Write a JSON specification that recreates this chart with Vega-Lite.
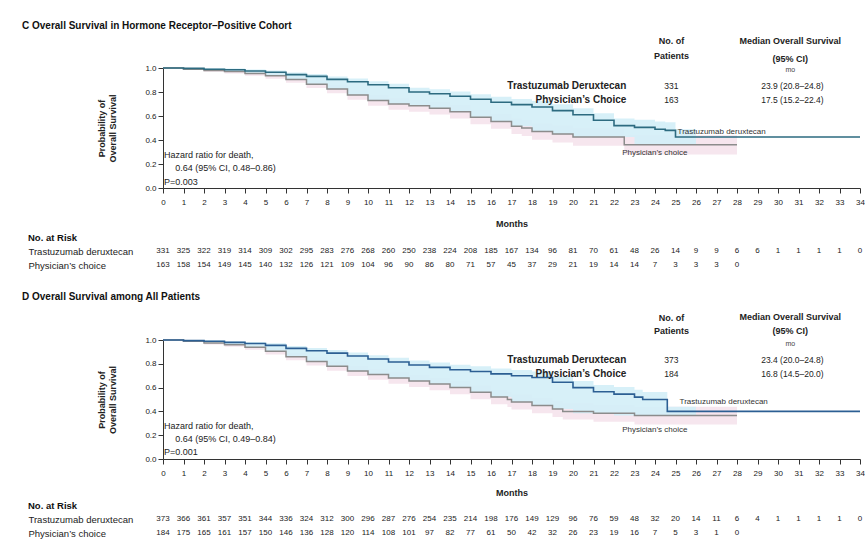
{
  "$schema": "https://vega.github.io/schema/vega-lite/v6.json",
  "background": "white",
  "padding": {"left": 22, "top": 20, "right": 0, "bottom": 0},
  "config": {
    "font": "Liberation Sans",
    "view": {"stroke": null},
    "axis": {"grid": false, "domainColor": "#333", "tickColor": "#333", "labelColor": "#222", "titleColor": "#222", "labelFontSize": 8, "titleFontSize": 9, "titleFontWeight": "bold"},
    "axisX": {"tickCount": 34, "labelOverlap": false, "labelFlush": false, "labelPadding": 5, "titlePadding": 13},
    "axisY": {"tickCount": 5, "labelOverlap": false, "titlePadding": 27},
    "title": {"color": "#111"}
  },
  "datasets": {
    "curvesC": [
      {"arm":"T","m":0,"s":1,"lo":1,"hi":1},
      {"arm":"T","m":1,"s":0.997,"lo":0.99,"hi":1},
      {"arm":"T","m":2,"s":0.99,"lo":0.98,"hi":0.998},
      {"arm":"T","m":3,"s":0.985,"lo":0.97,"hi":0.995},
      {"arm":"T","m":4,"s":0.975,"lo":0.955,"hi":0.988},
      {"arm":"T","m":5,"s":0.965,"lo":0.935,"hi":0.98},
      {"arm":"T","m":6,"s":0.945,"lo":0.905,"hi":0.962},
      {"arm":"T","m":7,"s":0.93,"lo":0.865,"hi":0.95},
      {"arm":"T","m":8,"s":0.905,"lo":0.825,"hi":0.93},
      {"arm":"T","m":9,"s":0.885,"lo":0.775,"hi":0.912},
      {"arm":"T","m":10,"s":0.86,"lo":0.73,"hi":0.89},
      {"arm":"T","m":11,"s":0.835,"lo":0.7,"hi":0.868},
      {"arm":"T","m":12,"s":0.8,"lo":0.685,"hi":0.835},
      {"arm":"T","m":13,"s":0.785,"lo":0.665,"hi":0.822},
      {"arm":"T","m":14,"s":0.765,"lo":0.635,"hi":0.805},
      {"arm":"T","m":15,"s":0.74,"lo":0.59,"hi":0.782},
      {"arm":"T","m":16,"s":0.715,"lo":0.555,"hi":0.76},
      {"arm":"T","m":17,"s":0.695,"lo":0.515,"hi":0.742},
      {"arm":"T","m":18,"s":0.675,"lo":0.47,"hi":0.725},
      {"arm":"T","m":19,"s":0.645,"lo":0.45,"hi":0.697},
      {"arm":"T","m":20,"s":0.61,"lo":0.425,"hi":0.665},
      {"arm":"T","m":21,"s":0.565,"lo":0.425,"hi":0.622},
      {"arm":"T","m":22,"s":0.52,"lo":0.425,"hi":0.58},
      {"arm":"T","m":23,"s":0.505,"lo":0.36,"hi":0.568},
      {"arm":"T","m":24,"s":0.49,"lo":0.36,"hi":0.555},
      {"arm":"T","m":24.5,"s":0.48,"lo":0.36,"hi":0.547},
      {"arm":"T","m":25,"s":0.425,"lo":0.36,"hi":0.49},
      {"arm":"T","m":26,"s":0.425,"lo":0.425,"hi":0.425},
      {"arm":"T","m":34,"s":0.425,"lo":0.425,"hi":0.425},
      {"arm":"P","m":0,"s":1,"lo":1,"hi":1},
      {"arm":"P","m":1,"s":0.99,"lo":0.985,"hi":0.995},
      {"arm":"P","m":2,"s":0.98,"lo":0.968,"hi":0.992},
      {"arm":"P","m":3,"s":0.97,"lo":0.954,"hi":0.986},
      {"arm":"P","m":4,"s":0.955,"lo":0.935,"hi":0.975},
      {"arm":"P","m":5,"s":0.935,"lo":0.91,"hi":0.96},
      {"arm":"P","m":6,"s":0.905,"lo":0.877,"hi":0.933},
      {"arm":"P","m":7,"s":0.865,"lo":0.833,"hi":0.897},
      {"arm":"P","m":8,"s":0.825,"lo":0.79,"hi":0.86},
      {"arm":"P","m":9,"s":0.775,"lo":0.735,"hi":0.815},
      {"arm":"P","m":10,"s":0.73,"lo":0.686,"hi":0.774},
      {"arm":"P","m":11,"s":0.7,"lo":0.653,"hi":0.747},
      {"arm":"P","m":12,"s":0.685,"lo":0.635,"hi":0.735},
      {"arm":"P","m":13,"s":0.665,"lo":0.612,"hi":0.718},
      {"arm":"P","m":14,"s":0.635,"lo":0.579,"hi":0.691},
      {"arm":"P","m":15,"s":0.59,"lo":0.531,"hi":0.649},
      {"arm":"P","m":16,"s":0.555,"lo":0.493,"hi":0.617},
      {"arm":"P","m":17,"s":0.515,"lo":0.45,"hi":0.58},
      {"arm":"P","m":17.5,"s":0.5,"lo":0.434,"hi":0.566},
      {"arm":"P","m":18,"s":0.47,"lo":0.402,"hi":0.538},
      {"arm":"P","m":19,"s":0.45,"lo":0.38,"hi":0.52},
      {"arm":"P","m":20,"s":0.425,"lo":0.352,"hi":0.498},
      {"arm":"P","m":22.5,"s":0.36,"lo":0.28,"hi":0.44},
      {"arm":"P","m":28,"s":0.36,"lo":0.27,"hi":0.45}
    ],
    "curvesD": [
      {"arm":"T","m":0,"s":1,"lo":1,"hi":1},
      {"arm":"T","m":1,"s":0.995,"lo":0.99,"hi":0.999},
      {"arm":"T","m":2,"s":0.99,"lo":0.975,"hi":0.998},
      {"arm":"T","m":3,"s":0.98,"lo":0.96,"hi":0.99},
      {"arm":"T","m":4,"s":0.97,"lo":0.94,"hi":0.984},
      {"arm":"T","m":5,"s":0.955,"lo":0.905,"hi":0.972},
      {"arm":"T","m":6,"s":0.93,"lo":0.86,"hi":0.95},
      {"arm":"T","m":7,"s":0.91,"lo":0.82,"hi":0.933},
      {"arm":"T","m":8,"s":0.89,"lo":0.78,"hi":0.916},
      {"arm":"T","m":9,"s":0.865,"lo":0.74,"hi":0.894},
      {"arm":"T","m":10,"s":0.84,"lo":0.71,"hi":0.872},
      {"arm":"T","m":11,"s":0.815,"lo":0.68,"hi":0.85},
      {"arm":"T","m":12,"s":0.79,"lo":0.655,"hi":0.828},
      {"arm":"T","m":13,"s":0.77,"lo":0.63,"hi":0.81},
      {"arm":"T","m":14,"s":0.75,"lo":0.6,"hi":0.792},
      {"arm":"T","m":15,"s":0.735,"lo":0.56,"hi":0.779},
      {"arm":"T","m":16,"s":0.715,"lo":0.52,"hi":0.761},
      {"arm":"T","m":17,"s":0.7,"lo":0.48,"hi":0.748},
      {"arm":"T","m":18,"s":0.685,"lo":0.45,"hi":0.735},
      {"arm":"T","m":19,"s":0.645,"lo":0.42,"hi":0.698},
      {"arm":"T","m":20,"s":0.6,"lo":0.385,"hi":0.655},
      {"arm":"T","m":21,"s":0.565,"lo":0.385,"hi":0.622},
      {"arm":"T","m":22,"s":0.545,"lo":0.365,"hi":0.604},
      {"arm":"T","m":23,"s":0.52,"lo":0.365,"hi":0.581},
      {"arm":"T","m":23.4,"s":0.5,"lo":0.365,"hi":0.562},
      {"arm":"T","m":24.6,"s":0.4,"lo":0.365,"hi":0.44},
      {"arm":"T","m":26,"s":0.4,"lo":0.4,"hi":0.4},
      {"arm":"T","m":34,"s":0.4,"lo":0.4,"hi":0.4},
      {"arm":"P","m":0,"s":1,"lo":1,"hi":1},
      {"arm":"P","m":1,"s":0.99,"lo":0.985,"hi":0.995},
      {"arm":"P","m":2,"s":0.975,"lo":0.962,"hi":0.988},
      {"arm":"P","m":3,"s":0.96,"lo":0.943,"hi":0.977},
      {"arm":"P","m":4,"s":0.94,"lo":0.918,"hi":0.962},
      {"arm":"P","m":5,"s":0.905,"lo":0.878,"hi":0.932},
      {"arm":"P","m":6,"s":0.86,"lo":0.829,"hi":0.891},
      {"arm":"P","m":7,"s":0.82,"lo":0.785,"hi":0.855},
      {"arm":"P","m":8,"s":0.78,"lo":0.741,"hi":0.819},
      {"arm":"P","m":9,"s":0.74,"lo":0.698,"hi":0.782},
      {"arm":"P","m":10,"s":0.71,"lo":0.665,"hi":0.755},
      {"arm":"P","m":11,"s":0.68,"lo":0.632,"hi":0.728},
      {"arm":"P","m":12,"s":0.655,"lo":0.605,"hi":0.705},
      {"arm":"P","m":13,"s":0.63,"lo":0.578,"hi":0.682},
      {"arm":"P","m":14,"s":0.6,"lo":0.545,"hi":0.655},
      {"arm":"P","m":15,"s":0.56,"lo":0.503,"hi":0.617},
      {"arm":"P","m":16,"s":0.52,"lo":0.46,"hi":0.58},
      {"arm":"P","m":16.8,"s":0.5,"lo":0.438,"hi":0.562},
      {"arm":"P","m":17,"s":0.48,"lo":0.417,"hi":0.543},
      {"arm":"P","m":18,"s":0.45,"lo":0.385,"hi":0.515},
      {"arm":"P","m":19,"s":0.42,"lo":0.353,"hi":0.487},
      {"arm":"P","m":19.5,"s":0.4,"lo":0.331,"hi":0.469},
      {"arm":"P","m":21,"s":0.385,"lo":0.314,"hi":0.456},
      {"arm":"P","m":23,"s":0.365,"lo":0.29,"hi":0.44},
      {"arm":"P","m":28,"s":0.365,"lo":0.285,"hi":0.445}
    ],
    "notesC": [{
      "hr1": "Hazard ratio for death,",
      "hr2": "0.64 (95% CI, 0.48\u20130.86)",
      "hr3": "P=0.003",
      "arms": ["Trastuzumab Deruxtecan", "Physician\u2019s Choice"],
      "n": ["331", "163"],
      "med": ["23.9 (20.8\u201324.8)", "17.5 (15.2\u201322.4)"],
      "hN": ["No. of", "Patients"],
      "hM": ["Median Overall Survival", "(95% CI)"],
      "mo": "mo",
      "labT": "Trastuzumab deruxtecan",
      "labP": "Physician\u2019s choice"
    }],
    "notesD": [{
      "hr1": "Hazard ratio for death,",
      "hr2": "0.64 (95% CI, 0.49\u20130.84)",
      "hr3": "P=0.001",
      "arms": ["Trastuzumab Deruxtecan", "Physician\u2019s Choice"],
      "n": ["373", "184"],
      "med": ["23.4 (20.0\u201324.8)", "16.8 (14.5\u201320.0)"],
      "hN": ["No. of", "Patients"],
      "hM": ["Median Overall Survival", "(95% CI)"],
      "mo": "mo",
      "labT": "Trastuzumab deruxtecan",
      "labP": "Physician\u2019s choice"
    }],
    "riskC": [
      {"arm":"Trastuzumab deruxtecan","m":0,"n":331},{"arm":"Trastuzumab deruxtecan","m":1,"n":325},{"arm":"Trastuzumab deruxtecan","m":2,"n":322},{"arm":"Trastuzumab deruxtecan","m":3,"n":319},{"arm":"Trastuzumab deruxtecan","m":4,"n":314},{"arm":"Trastuzumab deruxtecan","m":5,"n":309},{"arm":"Trastuzumab deruxtecan","m":6,"n":302},{"arm":"Trastuzumab deruxtecan","m":7,"n":295},{"arm":"Trastuzumab deruxtecan","m":8,"n":283},{"arm":"Trastuzumab deruxtecan","m":9,"n":276},{"arm":"Trastuzumab deruxtecan","m":10,"n":268},{"arm":"Trastuzumab deruxtecan","m":11,"n":260},{"arm":"Trastuzumab deruxtecan","m":12,"n":250},{"arm":"Trastuzumab deruxtecan","m":13,"n":238},{"arm":"Trastuzumab deruxtecan","m":14,"n":224},{"arm":"Trastuzumab deruxtecan","m":15,"n":208},{"arm":"Trastuzumab deruxtecan","m":16,"n":185},{"arm":"Trastuzumab deruxtecan","m":17,"n":167},{"arm":"Trastuzumab deruxtecan","m":18,"n":134},{"arm":"Trastuzumab deruxtecan","m":19,"n":96},{"arm":"Trastuzumab deruxtecan","m":20,"n":81},{"arm":"Trastuzumab deruxtecan","m":21,"n":70},{"arm":"Trastuzumab deruxtecan","m":22,"n":61},{"arm":"Trastuzumab deruxtecan","m":23,"n":48},{"arm":"Trastuzumab deruxtecan","m":24,"n":26},{"arm":"Trastuzumab deruxtecan","m":25,"n":14},{"arm":"Trastuzumab deruxtecan","m":26,"n":9},{"arm":"Trastuzumab deruxtecan","m":27,"n":9},{"arm":"Trastuzumab deruxtecan","m":28,"n":6},{"arm":"Trastuzumab deruxtecan","m":29,"n":6},{"arm":"Trastuzumab deruxtecan","m":30,"n":1},{"arm":"Trastuzumab deruxtecan","m":31,"n":1},{"arm":"Trastuzumab deruxtecan","m":32,"n":1},{"arm":"Trastuzumab deruxtecan","m":33,"n":1},{"arm":"Trastuzumab deruxtecan","m":34,"n":0},
      {"arm":"Physician\u2019s choice","m":0,"n":163},{"arm":"Physician\u2019s choice","m":1,"n":158},{"arm":"Physician\u2019s choice","m":2,"n":154},{"arm":"Physician\u2019s choice","m":3,"n":149},{"arm":"Physician\u2019s choice","m":4,"n":145},{"arm":"Physician\u2019s choice","m":5,"n":140},{"arm":"Physician\u2019s choice","m":6,"n":132},{"arm":"Physician\u2019s choice","m":7,"n":126},{"arm":"Physician\u2019s choice","m":8,"n":121},{"arm":"Physician\u2019s choice","m":9,"n":109},{"arm":"Physician\u2019s choice","m":10,"n":104},{"arm":"Physician\u2019s choice","m":11,"n":96},{"arm":"Physician\u2019s choice","m":12,"n":90},{"arm":"Physician\u2019s choice","m":13,"n":86},{"arm":"Physician\u2019s choice","m":14,"n":80},{"arm":"Physician\u2019s choice","m":15,"n":71},{"arm":"Physician\u2019s choice","m":16,"n":57},{"arm":"Physician\u2019s choice","m":17,"n":45},{"arm":"Physician\u2019s choice","m":18,"n":37},{"arm":"Physician\u2019s choice","m":19,"n":29},{"arm":"Physician\u2019s choice","m":20,"n":21},{"arm":"Physician\u2019s choice","m":21,"n":19},{"arm":"Physician\u2019s choice","m":22,"n":14},{"arm":"Physician\u2019s choice","m":23,"n":14},{"arm":"Physician\u2019s choice","m":24,"n":7},{"arm":"Physician\u2019s choice","m":25,"n":3},{"arm":"Physician\u2019s choice","m":26,"n":3},{"arm":"Physician\u2019s choice","m":27,"n":3},{"arm":"Physician\u2019s choice","m":28,"n":0}
    ],
    "riskD": [
      {"arm":"Trastuzumab deruxtecan","m":0,"n":373},{"arm":"Trastuzumab deruxtecan","m":1,"n":366},{"arm":"Trastuzumab deruxtecan","m":2,"n":361},{"arm":"Trastuzumab deruxtecan","m":3,"n":357},{"arm":"Trastuzumab deruxtecan","m":4,"n":351},{"arm":"Trastuzumab deruxtecan","m":5,"n":344},{"arm":"Trastuzumab deruxtecan","m":6,"n":336},{"arm":"Trastuzumab deruxtecan","m":7,"n":324},{"arm":"Trastuzumab deruxtecan","m":8,"n":312},{"arm":"Trastuzumab deruxtecan","m":9,"n":300},{"arm":"Trastuzumab deruxtecan","m":10,"n":296},{"arm":"Trastuzumab deruxtecan","m":11,"n":287},{"arm":"Trastuzumab deruxtecan","m":12,"n":276},{"arm":"Trastuzumab deruxtecan","m":13,"n":254},{"arm":"Trastuzumab deruxtecan","m":14,"n":235},{"arm":"Trastuzumab deruxtecan","m":15,"n":214},{"arm":"Trastuzumab deruxtecan","m":16,"n":198},{"arm":"Trastuzumab deruxtecan","m":17,"n":176},{"arm":"Trastuzumab deruxtecan","m":18,"n":149},{"arm":"Trastuzumab deruxtecan","m":19,"n":129},{"arm":"Trastuzumab deruxtecan","m":20,"n":96},{"arm":"Trastuzumab deruxtecan","m":21,"n":76},{"arm":"Trastuzumab deruxtecan","m":22,"n":59},{"arm":"Trastuzumab deruxtecan","m":23,"n":48},{"arm":"Trastuzumab deruxtecan","m":24,"n":32},{"arm":"Trastuzumab deruxtecan","m":25,"n":20},{"arm":"Trastuzumab deruxtecan","m":26,"n":14},{"arm":"Trastuzumab deruxtecan","m":27,"n":11},{"arm":"Trastuzumab deruxtecan","m":28,"n":6},{"arm":"Trastuzumab deruxtecan","m":29,"n":4},{"arm":"Trastuzumab deruxtecan","m":30,"n":1},{"arm":"Trastuzumab deruxtecan","m":31,"n":1},{"arm":"Trastuzumab deruxtecan","m":32,"n":1},{"arm":"Trastuzumab deruxtecan","m":33,"n":1},{"arm":"Trastuzumab deruxtecan","m":34,"n":0},
      {"arm":"Physician\u2019s choice","m":0,"n":184},{"arm":"Physician\u2019s choice","m":1,"n":175},{"arm":"Physician\u2019s choice","m":2,"n":165},{"arm":"Physician\u2019s choice","m":3,"n":161},{"arm":"Physician\u2019s choice","m":4,"n":157},{"arm":"Physician\u2019s choice","m":5,"n":150},{"arm":"Physician\u2019s choice","m":6,"n":146},{"arm":"Physician\u2019s choice","m":7,"n":136},{"arm":"Physician\u2019s choice","m":8,"n":128},{"arm":"Physician\u2019s choice","m":9,"n":120},{"arm":"Physician\u2019s choice","m":10,"n":114},{"arm":"Physician\u2019s choice","m":11,"n":108},{"arm":"Physician\u2019s choice","m":12,"n":101},{"arm":"Physician\u2019s choice","m":13,"n":97},{"arm":"Physician\u2019s choice","m":14,"n":82},{"arm":"Physician\u2019s choice","m":15,"n":77},{"arm":"Physician\u2019s choice","m":16,"n":61},{"arm":"Physician\u2019s choice","m":17,"n":50},{"arm":"Physician\u2019s choice","m":18,"n":42},{"arm":"Physician\u2019s choice","m":19,"n":32},{"arm":"Physician\u2019s choice","m":20,"n":26},{"arm":"Physician\u2019s choice","m":21,"n":23},{"arm":"Physician\u2019s choice","m":22,"n":19},{"arm":"Physician\u2019s choice","m":23,"n":16},{"arm":"Physician\u2019s choice","m":24,"n":7},{"arm":"Physician\u2019s choice","m":25,"n":5},{"arm":"Physician\u2019s choice","m":26,"n":3},{"arm":"Physician\u2019s choice","m":27,"n":1},{"arm":"Physician\u2019s choice","m":28,"n":0}
    ]
  },
  "spacing": 19,
  "vconcat": [
    {
      "title": {"text": "C  Overall Survival in Hormone Receptor\u2013Positive Cohort", "anchor": "start", "frame": "bounds", "fontSize": 10, "fontWeight": "bold", "offset": 6, "dx": -6},
      "spacing": 4,
      "vconcat": [
        {
          "width": 697, "height": 120,
          "layer": [
            {"data": {"name": "curvesC"}, "transform": [{"filter": "datum.arm === 'P'"}], "mark": {"type": "area", "interpolate": "step-after", "color": "#f6e6ee"},
             "encoding": {
               "x": {"field": "m", "type": "quantitative", "scale": {"domain": [0, 34], "nice": false}, "axis": {"title": "Months"}},
               "y": {"field": "lo", "type": "quantitative", "scale": {"domain": [0, 1], "nice": false}, "axis": {"format": ".1f", "title": ["Probability of", "Overall Survival"]}},
               "y2": {"field": "hi"}}},
            {"data": {"name": "curvesC"}, "transform": [{"filter": "datum.arm === 'T'"}], "mark": {"type": "area", "interpolate": "step-after", "color": "#d3eef7", "opacity": 0.9}, "encoding": {"x": {"field": "m", "type": "quantitative"}, "y": {"field": "lo", "type": "quantitative"}, "y2": {"field": "hi"}}},
            {"data": {"name": "curvesC"}, "transform": [{"filter": "datum.arm === 'P'"}], "mark": {"type": "line", "interpolate": "step-after", "color": "#8c8c8c", "strokeWidth": 1.5}, "encoding": {"x": {"field": "m", "type": "quantitative"}, "y": {"field": "s", "type": "quantitative"}}},
            {"data": {"name": "curvesC"}, "transform": [{"filter": "datum.arm === 'T'"}], "mark": {"type": "line", "interpolate": "step-after", "color": "#2d6b80", "strokeWidth": 1.6}, "encoding": {"x": {"field": "m", "type": "quantitative"}, "y": {"field": "s", "type": "quantitative"}}},
            {"data": {"name": "notesC"}, "mark": {"type": "text", "align": "left", "baseline": "middle", "fontSize": 9, "color": "#222"}, "encoding": {"x": {"datum": 0.05}, "y": {"datum": 0.275}, "text": {"field": "hr1", "type": "nominal"}}},
            {"data": {"name": "notesC"}, "mark": {"type": "text", "align": "left", "baseline": "middle", "fontSize": 9, "color": "#222"}, "encoding": {"x": {"datum": 0.6}, "y": {"datum": 0.165}, "text": {"field": "hr2", "type": "nominal"}}},
            {"data": {"name": "notesC"}, "mark": {"type": "text", "align": "left", "baseline": "middle", "fontSize": 9, "color": "#222"}, "encoding": {"x": {"datum": 0.05}, "y": {"datum": 0.05}, "text": {"field": "hr3", "type": "nominal"}}},
            {"data": {"name": "notesC"}, "mark": {"type": "text", "align": "right", "baseline": "middle", "fontSize": 10, "fontWeight": "bold", "lineHeight": 14, "color": "#222"}, "encoding": {"x": {"datum": 22.6}, "y": {"datum": 0.85}, "text": {"field": "arms", "type": "nominal"}}},
            {"data": {"name": "notesC"}, "mark": {"type": "text", "align": "center", "baseline": "middle", "fontSize": 8.5, "lineHeight": 14, "color": "#222"}, "encoding": {"x": {"datum": 24.8}, "y": {"datum": 0.85}, "text": {"field": "n", "type": "nominal"}}},
            {"data": {"name": "notesC"}, "mark": {"type": "text", "align": "center", "baseline": "middle", "fontSize": 8.5, "lineHeight": 14, "color": "#222"}, "encoding": {"x": {"datum": 30.7}, "y": {"datum": 0.85}, "text": {"field": "med", "type": "nominal"}}},
            {"data": {"name": "notesC"}, "mark": {"type": "text", "align": "center", "baseline": "middle", "fontSize": 9, "fontWeight": "bold", "lineHeight": 15, "color": "#222"}, "encoding": {"x": {"datum": 24.8}, "y": {"datum": 1.225}, "text": {"field": "hN", "type": "nominal"}}},
            {"data": {"name": "notesC"}, "mark": {"type": "text", "align": "center", "baseline": "middle", "fontSize": 9, "fontWeight": "bold", "lineHeight": 18, "color": "#222"}, "encoding": {"x": {"datum": 30.6}, "y": {"datum": 1.225}, "text": {"field": "hM", "type": "nominal"}}},
            {"data": {"name": "notesC"}, "mark": {"type": "text", "align": "center", "baseline": "middle", "fontSize": 7, "color": "#444"}, "encoding": {"x": {"datum": 30.6}, "y": {"datum": 0.98}, "text": {"field": "mo", "type": "nominal"}}},
            {"data": {"name": "notesC"}, "mark": {"type": "text", "align": "left", "baseline": "middle", "fontSize": 8, "color": "#333"}, "encoding": {"x": {"datum": 25.1}, "y": {"datum": 0.467}, "text": {"field": "labT", "type": "nominal"}}},
            {"data": {"name": "notesC"}, "mark": {"type": "text", "align": "left", "baseline": "middle", "fontSize": 8, "color": "#333"}, "encoding": {"x": {"datum": 22.4}, "y": {"datum": 0.29}, "text": {"field": "labP", "type": "nominal"}}}
          ]
        },
        {
          "width": 697, "height": 28,
          "title": {"text": "No. at Risk", "anchor": "start", "frame": "bounds", "fontSize": 9.5, "fontWeight": "bold", "offset": 2},
          "data": {"name": "riskC"},
          "mark": {"type": "text", "fontSize": 8, "color": "#222"},
          "encoding": {
            "x": {"field": "m", "type": "quantitative", "scale": {"domain": [0, 34], "nice": false}, "axis": null},
            "y": {"field": "arm", "type": "nominal", "sort": ["Trastuzumab deruxtecan", "Physician\u2019s choice"], "axis": {"title": null, "domain": false, "ticks": false, "tickSize": 0, "labelAlign": "left", "labelPadding": 135, "labelFontSize": 9.5}},
            "text": {"field": "n", "type": "quantitative"}
          }
        }
      ]
    },
    {
      "title": {"text": "D  Overall Survival among All Patients", "anchor": "start", "frame": "bounds", "fontSize": 10, "fontWeight": "bold", "offset": 11, "dx": -6},
      "spacing": 3,
      "vconcat": [
        {
          "width": 697, "height": 119,
          "layer": [
            {"data": {"name": "curvesD"}, "transform": [{"filter": "datum.arm === 'P'"}], "mark": {"type": "area", "interpolate": "step-after", "color": "#f6e6ee"},
             "encoding": {
               "x": {"field": "m", "type": "quantitative", "scale": {"domain": [0, 34], "nice": false}, "axis": {"title": "Months", "titlePadding": 11}},
               "y": {"field": "lo", "type": "quantitative", "scale": {"domain": [0, 1], "nice": false}, "axis": {"format": ".1f", "title": ["Probability of", "Overall Survival"]}},
               "y2": {"field": "hi"}}},
            {"data": {"name": "curvesD"}, "transform": [{"filter": "datum.arm === 'T'"}], "mark": {"type": "area", "interpolate": "step-after", "color": "#d3eef7", "opacity": 0.9}, "encoding": {"x": {"field": "m", "type": "quantitative"}, "y": {"field": "lo", "type": "quantitative"}, "y2": {"field": "hi"}}},
            {"data": {"name": "curvesD"}, "transform": [{"filter": "datum.arm === 'P'"}], "mark": {"type": "line", "interpolate": "step-after", "color": "#8c8c8c", "strokeWidth": 1.5}, "encoding": {"x": {"field": "m", "type": "quantitative"}, "y": {"field": "s", "type": "quantitative"}}},
            {"data": {"name": "curvesD"}, "transform": [{"filter": "datum.arm === 'T'"}], "mark": {"type": "line", "interpolate": "step-after", "color": "#2c5f93", "strokeWidth": 1.6}, "encoding": {"x": {"field": "m", "type": "quantitative"}, "y": {"field": "s", "type": "quantitative"}}},
            {"data": {"name": "notesD"}, "mark": {"type": "text", "align": "left", "baseline": "middle", "fontSize": 9, "color": "#222"}, "encoding": {"x": {"datum": 0.05}, "y": {"datum": 0.277}, "text": {"field": "hr1", "type": "nominal"}}},
            {"data": {"name": "notesD"}, "mark": {"type": "text", "align": "left", "baseline": "middle", "fontSize": 9, "color": "#222"}, "encoding": {"x": {"datum": 0.6}, "y": {"datum": 0.168}, "text": {"field": "hr2", "type": "nominal"}}},
            {"data": {"name": "notesD"}, "mark": {"type": "text", "align": "left", "baseline": "middle", "fontSize": 9, "color": "#222"}, "encoding": {"x": {"datum": 0.05}, "y": {"datum": 0.06}, "text": {"field": "hr3", "type": "nominal"}}},
            {"data": {"name": "notesD"}, "mark": {"type": "text", "align": "right", "baseline": "middle", "fontSize": 10, "fontWeight": "bold", "lineHeight": 14, "color": "#222"}, "encoding": {"x": {"datum": 22.6}, "y": {"datum": 0.83}, "text": {"field": "arms", "type": "nominal"}}},
            {"data": {"name": "notesD"}, "mark": {"type": "text", "align": "center", "baseline": "middle", "fontSize": 8.5, "lineHeight": 14, "color": "#222"}, "encoding": {"x": {"datum": 24.8}, "y": {"datum": 0.83}, "text": {"field": "n", "type": "nominal"}}},
            {"data": {"name": "notesD"}, "mark": {"type": "text", "align": "center", "baseline": "middle", "fontSize": 8.5, "lineHeight": 14, "color": "#222"}, "encoding": {"x": {"datum": 30.7}, "y": {"datum": 0.83}, "text": {"field": "med", "type": "nominal"}}},
            {"data": {"name": "notesD"}, "mark": {"type": "text", "align": "center", "baseline": "middle", "fontSize": 9, "fontWeight": "bold", "lineHeight": 13, "color": "#222"}, "encoding": {"x": {"datum": 24.8}, "y": {"datum": 1.185}, "text": {"field": "hN", "type": "nominal"}}},
            {"data": {"name": "notesD"}, "mark": {"type": "text", "align": "center", "baseline": "middle", "fontSize": 9, "fontWeight": "bold", "lineHeight": 14, "color": "#222"}, "encoding": {"x": {"datum": 30.6}, "y": {"datum": 1.195}, "text": {"field": "hM", "type": "nominal"}}},
            {"data": {"name": "notesD"}, "mark": {"type": "text", "align": "center", "baseline": "middle", "fontSize": 7, "color": "#444"}, "encoding": {"x": {"datum": 30.6}, "y": {"datum": 0.966}, "text": {"field": "mo", "type": "nominal"}}},
            {"data": {"name": "notesD"}, "mark": {"type": "text", "align": "left", "baseline": "middle", "fontSize": 8, "color": "#333"}, "encoding": {"x": {"datum": 25.2}, "y": {"datum": 0.479}, "text": {"field": "labT", "type": "nominal"}}},
            {"data": {"name": "notesD"}, "mark": {"type": "text", "align": "left", "baseline": "middle", "fontSize": 8, "color": "#333"}, "encoding": {"x": {"datum": 22.4}, "y": {"datum": 0.244}, "text": {"field": "labP", "type": "nominal"}}}
          ]
        },
        {
          "width": 697, "height": 28,
          "title": {"text": "No. at Risk", "anchor": "start", "frame": "bounds", "fontSize": 9.5, "fontWeight": "bold", "offset": 2},
          "data": {"name": "riskD"},
          "mark": {"type": "text", "fontSize": 8, "color": "#222"},
          "encoding": {
            "x": {"field": "m", "type": "quantitative", "scale": {"domain": [0, 34], "nice": false}, "axis": null},
            "y": {"field": "arm", "type": "nominal", "sort": ["Trastuzumab deruxtecan", "Physician\u2019s choice"], "axis": {"title": null, "domain": false, "ticks": false, "tickSize": 0, "labelAlign": "left", "labelPadding": 135, "labelFontSize": 9.5}},
            "text": {"field": "n", "type": "quantitative"}
          }
        }
      ]
    }
  ]
}
